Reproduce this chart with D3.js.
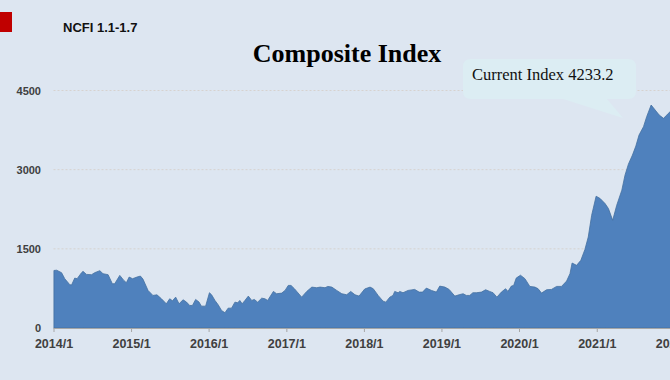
<!DOCTYPE html>
<html>
<head>
<meta charset="utf-8">
<script src="https://cdn.jsdelivr.net/npm/d3@7/dist/d3.min.js"></script>
<style>
  html, body { margin: 0; padding: 0; background: #dde6f1; overflow: hidden; }
  svg { display: block; }
</style>
</head>
<body>
<svg id="chart" width="670" height="380"></svg>
<script>
// ---- Data (NCFI composite index) ----
const dates = [
  "2014-01-03","2014-01-16","2014-02-08","2014-02-23","2014-03-19","2014-03-27","2014-04-11","2014-04-22",
  "2014-05-13","2014-05-20","2014-06-05","2014-06-29","2014-07-14","2014-08-07","2014-08-22","2014-09-15",
  "2014-10-05","2014-10-16","2014-11-09","2014-11-28","2014-12-10","2014-12-23",
  "2015-01-08","2015-01-29","2015-02-14","2015-02-26","2015-03-22","2015-04-14","2015-05-03","2015-05-24",
  "2015-06-16","2015-07-02","2015-07-15","2015-07-30","2015-08-15","2015-09-03","2015-09-19","2015-10-04",
  "2015-10-17","2015-11-01","2015-11-17","2015-11-28","2015-12-18",
  "2016-01-05","2016-01-15","2016-01-31","2016-02-15","2016-03-02","2016-03-18","2016-04-02","2016-04-18",
  "2016-05-04","2016-05-17","2016-05-27","2016-06-07","2016-06-20","2016-07-06","2016-07-22","2016-08-03",
  "2016-08-19","2016-09-07","2016-09-22","2016-10-05","2016-11-01","2016-11-16","2016-12-10","2016-12-26",
  "2017-01-10","2017-01-23","2017-02-08","2017-03-14","2017-04-07","2017-05-01","2017-05-24","2017-06-09",
  "2017-07-02","2017-07-15","2017-08-03","2017-08-26","2017-09-19","2017-10-12","2017-10-31","2017-11-20",
  "2017-12-09",
  "2018-01-05","2018-01-30","2018-02-14","2018-03-09","2018-04-01","2018-04-14","2018-05-03","2018-05-18",
  "2018-05-26","2018-06-11","2018-06-19","2018-07-04","2018-07-28","2018-08-28","2018-09-18","2018-10-04",
  "2018-10-22","2018-11-15","2018-12-08","2018-12-24",
  "2019-01-17","2019-02-06","2019-03-05","2019-03-25","2019-04-13","2019-04-28","2019-05-14","2019-05-29",
  "2019-06-14","2019-07-08","2019-07-28","2019-08-16","2019-09-01","2019-09-19","2019-10-10","2019-10-30",
  "2019-11-10","2019-11-26","2019-12-07","2019-12-19",
  "2020-01-02","2020-01-08","2020-01-29","2020-02-21","2020-03-16","2020-03-31","2020-04-16","2020-05-10",
  "2020-06-02","2020-06-26","2020-07-19","2020-08-12","2020-08-28","2020-09-07","2020-09-28","2020-10-18",
  "2020-11-06","2020-11-22","2020-12-08","2020-12-29",
  "2021-01-17","2021-02-09","2021-02-25","2021-03-17","2021-04-05","2021-04-29","2021-05-14","2021-05-30",
  "2021-06-18","2021-07-04","2021-07-19","2021-08-09","2021-08-24","2021-09-14","2021-10-03","2021-10-22",
  "2021-11-11","2021-11-27","2021-12-12","2022-01-07"
];
const values = [
  1090,1095,1048,934,820,815,946,934,
  1048,1073,1016,1010,1048,1086,1029,1010,
  839,839,997,902,858,965,
  934,965,984,927,712,617,629,554,
  459,554,516,585,459,535,491,427,
  427,541,491,414,414,
  668,630,522,440,332,289,376,376,
  490,478,522,459,522,604,522,541,
  490,566,554,522,693,649,661,712,
  807,807,744,585,693,775,763,775,
  763,788,775,712,649,630,693,630,
  604,
  740,775,744,617,509,490,585,617,
  693,668,693,668,712,731,680,680,
  756,712,680,794,
  775,731,604,630,649,617,617,668,
  668,680,725,693,668,585,680,744,
  693,794,807,946,
  984,1000,934,788,775,744,661,725,
  731,788,788,889,1029,1231,1187,1282,
  1485,1724,2136,2497,
  2453,2358,2263,2041,2326,2611,2896,3105,
  3276,3447,3656,3814,4004,4225,4130,4035,
  3973,4035,4098,4233.2
];
const yTicks = [0, 1500, 3000, 4500];
const xTickYears = ["2014-01-01","2015-01-01","2016-01-01","2017-01-01","2018-01-01","2019-01-01","2020-01-01","2021-01-01","2022-01-01"];
const titleText = "Composite Index";
const subtitleText = "NCFI 1.1-1.7";
const calloutText = "Current Index 4233.2";

// ---- Drawing ----
const parse = d3.timeParse("%Y-%m-%d");
const data = dates.map((d, i) => ({ date: parse(d), value: values[i] }));

const svg = d3.select("#chart");

const x = d3.scaleTime()
  .domain([parse("2014-01-01"), parse("2022-01-01")])
  .range([53.5, 674.3]);
const y = d3.scaleLinear()
  .domain([0, 4500])
  .range([328, 90.5]);

// background
svg.append("rect").attr("width", 670).attr("height", 380).attr("fill", "#dde6f1");

// red marker
svg.append("rect").attr("x", 0).attr("y", 12).attr("width", 12).attr("height", 20).attr("fill", "#c00000");

// subtitle
svg.append("text")
  .attr("x", 63).attr("y", 32)
  .attr("font-family", "Liberation Sans, Arial, sans-serif")
  .attr("font-weight", "bold").attr("font-size", 13)
  .attr("fill", "#111")
  .text(subtitleText);

// title
svg.append("text")
  .attr("x", 347).attr("y", 62)
  .attr("text-anchor", "middle")
  .attr("font-family", "Liberation Serif, Times New Roman, serif")
  .attr("font-weight", "bold").attr("font-size", 26)
  .attr("fill", "#000")
  .text(titleText);

// gridlines
svg.append("g").selectAll("line")
  .data(yTicks.filter(d => d > 0))
  .join("line")
  .attr("x1", 53.5).attr("x2", 670)
  .attr("y1", d => y(d)).attr("y2", d => y(d))
  .attr("stroke", "#d6d2cf").attr("stroke-width", 1)
  .attr("stroke-dasharray", "2,2");

// y labels
svg.append("g").selectAll("text")
  .data(yTicks)
  .join("text")
  .attr("x", 41).attr("y", d => y(d) + 4)
  .attr("text-anchor", "end")
  .attr("font-family", "Liberation Sans, Arial, sans-serif")
  .attr("font-weight", "bold").attr("font-size", 11)
  .attr("fill", "#404040")
  .text(d => d);

// area
const area = d3.area()
  .x(d => x(d.date))
  .y0(y(0))
  .y1(d => y(d.value));
svg.append("path")
  .datum(data)
  .attr("d", area)
  .attr("fill", "#4f81bd")
  .attr("stroke", "#44709f")
  .attr("stroke-width", 0.8);

// x axis
const xAxis = d3.axisBottom(x)
  .tickValues(xTickYears.map(parse))
  .tickFormat(d3.timeFormat("%Y/%-m"))
  .tickSize(4)
  .tickSizeOuter(0);
const gx = svg.append("g")
  .attr("transform", `translate(0,${y(0)})`)
  .call(xAxis);
gx.select(".domain").attr("stroke", "#a6a6a6").attr("d", `M53.5,0.5H670`);
gx.selectAll(".tick line").attr("stroke", "#a6a6a6");
gx.selectAll(".tick text")
  .attr("dy", "1.05em")
  .attr("font-family", "Liberation Sans, Arial, sans-serif")
  .attr("font-weight", "bold").attr("font-size", 12.5)
  .attr("fill", "#404040");

// callout
const cb = { x: 463, y: 59, w: 173, h: 40, r: 8 };
const callout = svg.append("g");
callout.append("path")
  .attr("d", `M${cb.x + cb.r},${cb.y} H${cb.x + cb.w - cb.r} Q${cb.x + cb.w},${cb.y} ${cb.x + cb.w},${cb.y + cb.r}
     V${cb.y + cb.h - cb.r} Q${cb.x + cb.w},${cb.y + cb.h} ${cb.x + cb.w - cb.r},${cb.y + cb.h}
     H607 L623,118 L563,${cb.y + cb.h}
     H${cb.x + cb.r} Q${cb.x},${cb.y + cb.h} ${cb.x},${cb.y + cb.h - cb.r}
     V${cb.y + cb.r} Q${cb.x},${cb.y} ${cb.x + cb.r},${cb.y} Z`)
  .attr("fill", "#dcedf3");
callout.append("text")
  .attr("x", 472).attr("y", 80)
  .attr("font-family", "Liberation Serif, Times New Roman, serif")
  .attr("font-size", 16.5)
  .attr("fill", "#111")
  .text(calloutText);
</script>
</body>
</html>
